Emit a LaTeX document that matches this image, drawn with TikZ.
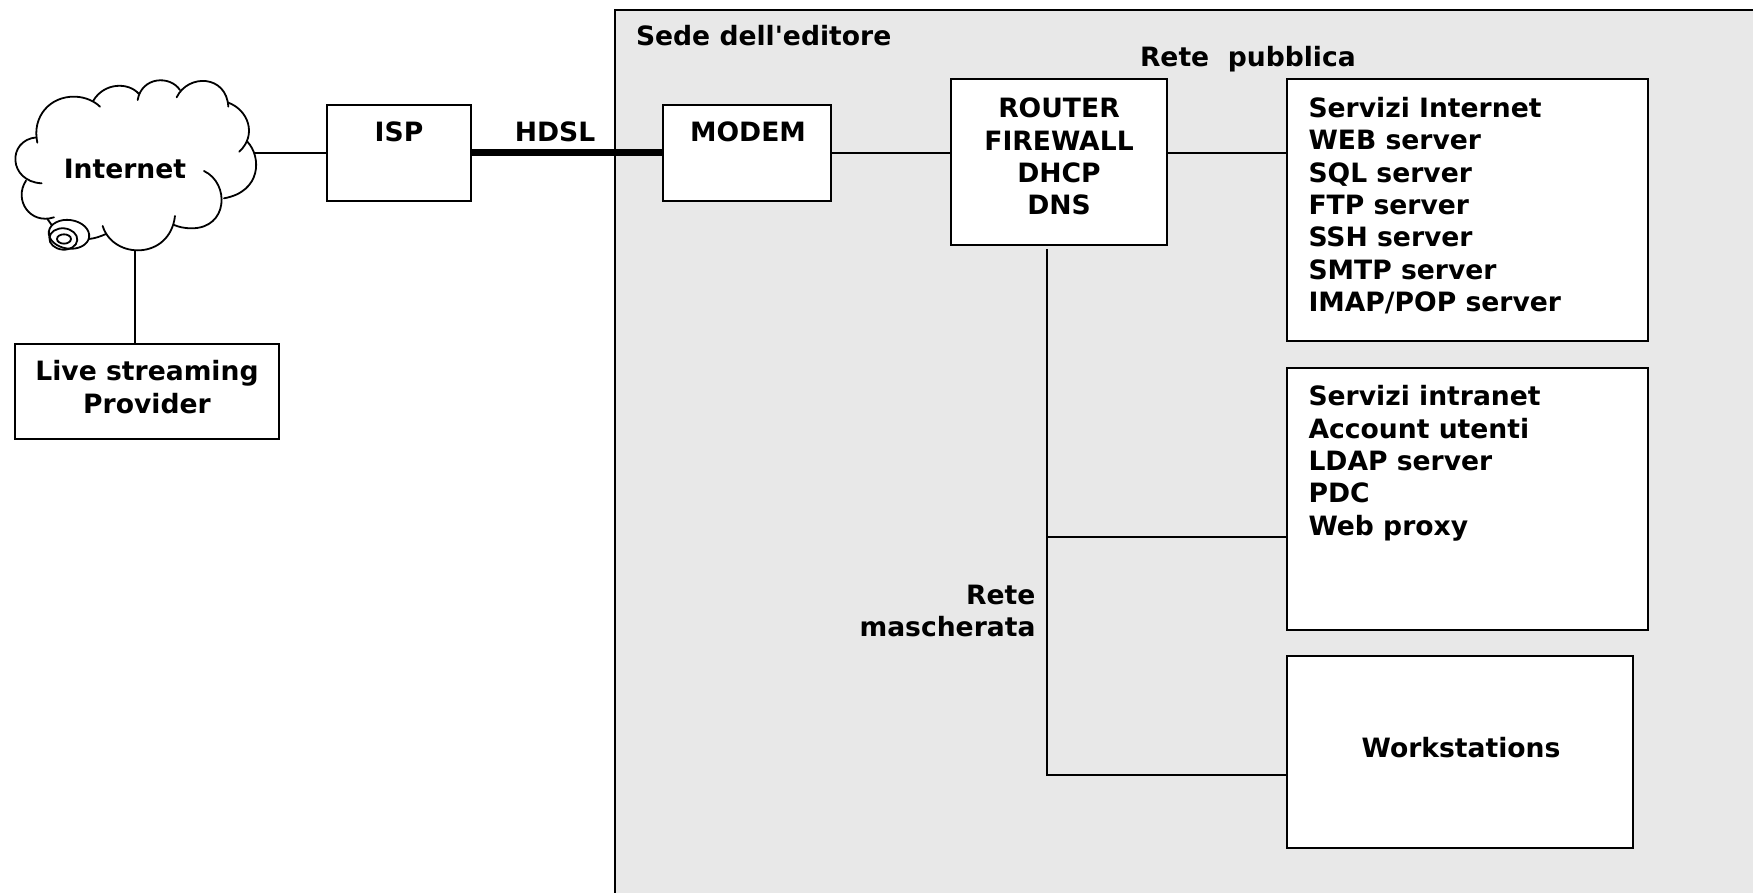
\documentclass[tikz,border=0pt]{standalone}
\usepackage{fontspec}
\setmainfont[Ligatures=TeXOff]{DejaVu Sans}
\begin{document}
\begin{tikzpicture}[x=1pt,y=-1pt,line width=2pt,line join=miter,
  box/.style={draw=black,fill=white,inner sep=0pt,outer sep=0pt,anchor=north west},
  txt/.style={inner sep=0pt,font=\fontsize{26.6}{32.4}\selectfont\bfseries},
  cloudline/.style={line width=1.8pt,line cap=round}]
\useasboundingbox (0,0) rectangle (1753,893);
\fill[white] (0,0) rectangle (1753,893);
\fill[black!9] (615,10) rectangle (1760,900);
\draw (1760,10) -- (615,10) -- (615,900);
% boxes
\node[box,minimum width=144pt,minimum height=96pt] (isp) at (327,105) {};
\node[box,minimum width=168pt,minimum height=96pt] (modem) at (663,105) {};
\node[box,minimum width=216pt,minimum height=166pt] (router) at (951,79) {};
\node[box,minimum width=361pt,minimum height=262pt] (pub) at (1287,79) {};
\node[box,minimum width=361pt,minimum height=262pt] (intra) at (1287,368) {};
\node[box,minimum width=346pt,minimum height=192pt] (work) at (1287,656) {};
\node[box,minimum width=264pt,minimum height=95pt] (live) at (15,344) {};
% cloud
\begin{scope}[x=0.3333pt,y=-0.3333pt,yshift=-60pt,cloudline]
\draw (112,248) .. controls (95,170) and (150,108) .. (225,110) .. controls (258,111) and (285,125) .. (300,140);
\draw (280,122) .. controls (312,68) and (385,65) .. (417,102);
\draw (413,120) .. controls (425,50) and (510,45) .. (540,90);
\draw (530,112) .. controls (565,40) and (680,45) .. (685,140);
\draw (685,128) .. controls (745,150) and (772,225) .. (718,275);
\draw (742,245) .. controls (785,290) and (785,395) .. (672,415);
\draw (612,333) .. controls (690,370) and (685,505) .. (575,505) .. controls (550,505) and (535,500) .. (522,495);
\draw (525,468) .. controls (510,600) and (340,600) .. (308,498);
\draw (318,522) .. controls (300,530) and (285,535) .. (268,537);
\draw (78,362) .. controls (40,420) and (90,495) .. (162,472);
\draw (143,478) -- (155,495);
\draw (125,370) .. controls (25,365) and (20,240) .. (110,232);
\draw[rotate around={-8:(207,523)}] (207,523) ellipse (61 and 43);
\draw[rotate around={-5:(190,537)}] (190,537) ellipse (42 and 32);
\draw (192,537) ellipse (21 and 14);
\end{scope}
\coordinate (cloudE) at (255,153);
\coordinate (cloudS) at (135,250);
% connectors
\draw (cloudE) -- (cloudE -| isp.west);
\draw (cloudS) -- (cloudS |- live.north);
\draw[line width=7pt] (isp.east |- cloudE) -- (modem.west |- cloudE);
\draw (modem.east |- cloudE) -- (router.west |- cloudE);
\draw (router.east |- cloudE) -- (pub.west |- cloudE);
\coordinate (busT) at (1047,249);
\coordinate (busM) at (1047,537);
\coordinate (busB) at (1047,775);
\draw (busT) -- (busB) -- (busB -| work.west);
\draw (busM) -- (busM -| intra.west);
% text
\node[txt] (tint) at (125,168.5) {Internet};
\node[txt,anchor=base] (tisp) at (399,142) {ISP};
\node[txt,anchor=base] (thdsl) at (555,142) {HDSL};
\node[txt,anchor=base] (tmodem) at (748,142) {MODEM};
\node[txt,anchor=base west] (tsede) at (635,46) {Sede dell'editore};
\node[txt,anchor=base west] (tpub) at (1139,67) {Rete\ \ pubblica};
\node[txt,anchor=north,align=center] (trouter) at (1059,97) {ROUTER\\FIREWALL\\DHCP\\DNS};
\node[txt,anchor=north west,align=left] (tsi) at (1307.5,96) {Servizi Internet\\WEB server\\SQL server\\FTP server\\SSH server\\SMTP server\\IMAP/POP server};
\node[txt,anchor=north west,align=left] (tin) at (1307.5,384.5) {Servizi intranet\\Account utenti\\LDAP server\\PDC\\Web proxy};
\node[txt,anchor=base] (tws) at (1461,757) {Workstations};
\node[txt,anchor=north,align=center] (tlive) at (147,359.5) {Live streaming\\Provider};
\node[txt,anchor=north east,align=right] (tmas) at (1036.5,584) {Rete\\mascherata};
\end{tikzpicture}
\end{document}
